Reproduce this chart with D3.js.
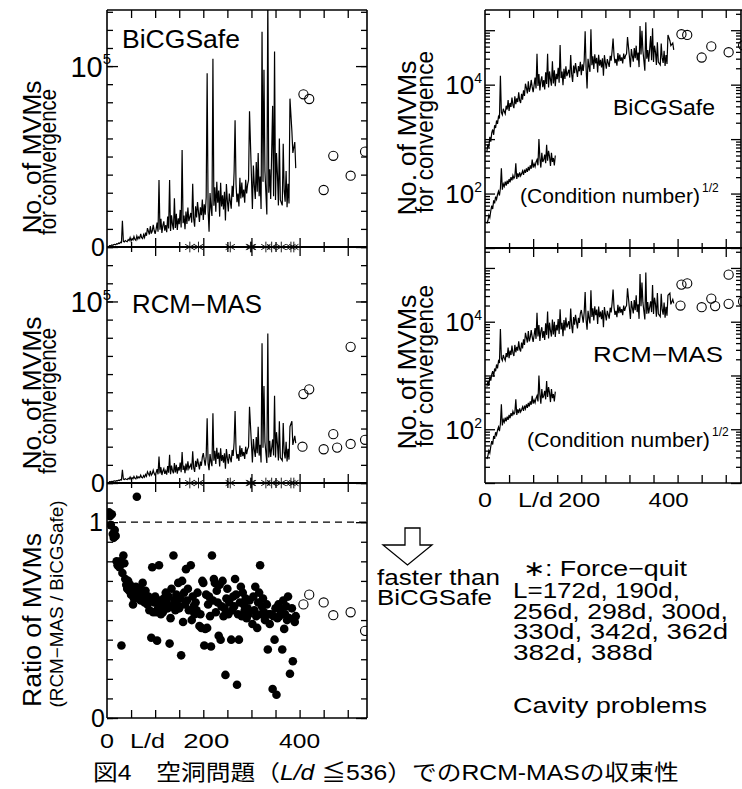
<!DOCTYPE html>
<html>
<head>
<meta charset="utf-8">
<script src="https://cdn.jsdelivr.net/npm/d3@7"></script>
<style>
body { margin: 0; background: #fff; }
svg text { font-family: "Liberation Sans", Arial, "Noto Sans CJK JP", sans-serif; fill: #000; }
</style>
</head>
<body>
<svg id="fig" width="742" height="789"></svg>
<script>
// L/d of every cavity problem that was run
const ldValues = [
    4, 6, 8, 10, 12, 14, 16, 18, 20, 22, 24, 26, 28, 30, 32, 34, 36, 38, 40, 42,
    44, 46, 48, 50, 52, 54, 56, 58, 60, 62, 64, 66, 68, 70, 72, 74, 76, 78, 80, 82,
    84, 86, 88, 90, 92, 94, 96, 98, 100, 102, 104, 106, 108, 110, 112, 114, 116, 118, 120, 122,
    124, 126, 128, 130, 132, 134, 136, 138, 140, 142, 144, 146, 148, 150, 152, 154, 156, 158, 160, 162,
    164, 166, 168, 170, 172, 174, 176, 178, 180, 182, 184, 186, 188, 190, 192, 194, 196, 198, 200, 202,
    204, 206, 208, 210, 212, 214, 216, 218, 220, 222, 224, 226, 228, 230, 232, 234, 236, 238, 240, 242,
    244, 246, 248, 250, 252, 254, 256, 258, 260, 262, 264, 266, 268, 270, 272, 274, 276, 278, 280, 282,
    284, 286, 288, 290, 292, 294, 296, 298, 300, 302, 304, 306, 308, 310, 312, 314, 316, 318, 320, 322,
    324, 326, 328, 330, 332, 334, 336, 338, 340, 342, 344, 346, 348, 350, 352, 354, 356, 358, 360, 362,
    364, 366, 368, 370, 372, 374, 376, 378, 380, 382, 384, 386, 388, 390, 392
];
const forceQuitLd = [172, 190, 256, 298, 300, 330, 342, 362, 382, 388];

// MVMs for convergence (null = force-quit)
const bicgMVMs = [
    600, 800, 700, 1100, 900, 1300, 1500, 1200, 1800, 1600,
    2200, 1900, 2600, 2400, 14500, 3100, 2800, 3600, 3200, 2900,
    4100, 3500, 5200, 3300, 4600, 3900, 5800, 4200, 3700, 6100,
    4400, 5600, 4800, 7200, 5100, 4600, 6800, 5300, 7900, 6200,
    10400, 8700, 6900, 11500, 7400, 8800, 12200, 9100, 7300, 9800,
    13500, 8500, 37000, 9500, 15600, 7800, 11800, 14200, 9000, 12100,
    8200, 16800, 10300, 37000, 8900, 17500, 12400, 9600, 27000, 10500,
    18300, 9400, 15800, 12600, 20500, 10800, 53600, 13200, 17400, 9800,
    19600, 12700, 21800, 14300, null, 18800, 13500, 35000, 15600, 11200,
    22500, 16300, 24800, null, 13800, 21900, 17600, 26300, 14900, 23600,
    17800, 27500, 96000, 19800, 8500, 29800, 21500, 17200, 104000, 22800,
    33000, 19500, 36000, 24500, 31200, 16800, 35500, 22400, 28600, 20800,
    30500, 14600, 34800, 25400, 19600, 29500, null, 21200, 33800, 27600,
    41500, 70000, 34500, 24800, 29600, 22400, 38200, 26800, 35600, 27400,
    31800, 24500, 37200, 29600, 34500, 37000, 75000, null, null, 21000,
    45000, 34000, 26500, 47000, 30500, 52000, 28000, 39000, 21000, 119000,
    36000, 98000, 42000, null, 18000, 140000, 30000, 43000, 26500, null,
    78000, 28000, 108000, 26000, 52000, 40000, 23000, 60000, 26000, null,
    23000, 57000, 31000, 25000, 42000, 22000, 35000, 24000, 82000, null,
    64000, 52000, null, 58000, 43600
];
const rcmMVMs = [
    620, 780, 640, 950, 800, 1050, 1200, 950, 1350, 1200,
    1600, 1350, 1850, 1700, 7300, 2100, 1900, 2400, 2100, 1900,
    2600, 2200, 3300, 2100, 2900, 2400, 3600, 2600, 2300, 3700,
    2700, 3400, 2900, 4300, 3100, 2800, 4100, 3200, 4700, 3700,
    6200, 5100, 4100, 6700, 4300, 5100, 7000, 5200, 4200, 5600,
    7600, 4800, 14600, 5300, 8700, 4400, 6600, 7900, 5000, 6700,
    4600, 9300, 5700, 15500, 4900, 9600, 6800, 5300, 11000, 5800,
    10000, 5200, 8700, 6900, 11200, 5900, 17000, 7200, 9500, 5400,
    10700, 6900, 11900, 7800, null, 10200, 7300, 17500, 8500, 6100,
    12200, 8800, 13400, null, 7500, 11800, 9500, 14200, 16500, 12700,
    9600, 14800, 35600, 10700, 7100, 16000, 11600, 9300, 38400, 12300,
    17800, 10500, 19400, 13200, 16800, 9100, 19100, 12100, 15400, 11200,
    16400, 7900, 18700, 13700, 10600, 15900, null, 11400, 18200, 14900,
    22300, 39700, 18600, 13400, 15900, 12100, 20600, 14400, 19200, 14800,
    17100, 13200, 20000, 15900, 18600, 19900, 42000, null, null, 11300,
    24200, 18300, 14300, 25300, 16400, 31000, 15100, 21000, 11300, 77000,
    19400, 53400, 22600, null, 11000, 82300, 14000, 23200, 14300, null,
    24000, 15100, 48000, 14000, 28000, 21500, 12400, 34000, 14000, null,
    12400, 33000, 16700, 13500, 22700, 11900, 18900, 12900, 31000, null,
    34000, 21000, null, 26000, 22000
];
// RCM-MAS / BiCGSafe
const mvmRatio = [
    1.05, 1.03, 0.985, 1.04, 0.94, 0.92, 0.96, 0.93, 0.80, 0.78,
    0.79, 0.77, 0.80, 0.37, 0.74, 0.83, 0.79, 0.71, 0.68, 0.66,
    0.70, 0.65, 0.68, 0.63, 0.66, 0.58, 0.61, 0.64, 0.67, 1.13,
    0.64, 0.61, 0.66, 0.60, 0.63, 0.69, 0.62, 0.59, 0.65, 0.60,
    0.58, 0.62, 0.55, 0.60, 0.41, 0.77, 0.54, 0.59, 0.62, 0.54,
    0.395, 0.56, 0.78, 0.60, 0.53, 0.57, 0.54, 0.61, 0.58, 0.64,
    0.59, 0.56, 0.62, 0.38, 0.51, 0.66, 0.57, 0.83, 0.60, 0.55,
    0.63, 0.58, 0.69, 0.56, 0.61, 0.32, 0.70, 0.49, 0.64, 0.58,
    0.76, 0.60, 0.66, 0.55, null, 0.78, 0.50, 0.62, 0.57, 0.53,
    0.59, 0.55, 0.64, null, 0.47, 0.53, 0.46, 0.70, 0.69, 0.37,
    0.455, 0.63, 0.46, 0.58, 0.62, 0.52, 0.365, 0.83, 0.60, 0.71,
    0.69, 0.54, 0.65, 0.59, 0.42, 0.68, 0.40, 0.57, 0.70, 0.52,
    0.56, 0.22, 0.61, 0.66, 0.53, 0.59, null, 0.40, 0.55, 0.62,
    0.57, 0.71, 0.63, 0.17, 0.53, 0.40, 0.59, 0.67, 0.52, 0.64,
    0.58, 0.55, 0.61, 0.51, 0.56, 0.53, 0.60, null, null, 0.48,
    0.62, 0.55, 0.67, 0.52, 0.46, 0.59, 0.64, 0.78, 0.53, 0.57,
    0.61, 0.54, 0.50, null, 0.58, 0.35, 0.53, 0.48, 0.53, null,
    0.148, 0.52, 0.40, 0.56, 0.119, 0.51, 0.58, 0.52, 0.55, null,
    0.35, 0.60, 0.455, 0.53, 0.57, 0.50, 0.62, 0.51, 0.226, null,
    0.56, 0.29, null, 0.49, 0.52
];

// (Condition number)^(1/2)
const condLd = [
    4, 6, 8, 10, 12, 14, 16, 18, 20, 22, 24, 26, 28, 30, 32, 34, 36, 38, 40, 42,
    44, 46, 48, 50, 52, 54, 56, 58, 60, 62, 64, 66, 68, 70, 72, 74, 76, 78, 80, 82,
    84, 86, 88, 90, 92, 94, 96, 98, 100, 102, 104, 106, 108, 110, 112, 114, 116, 118, 120, 122,
    124, 126, 128, 130, 132, 134, 136, 138, 140, 142, 144, 146
];
const condSqrt = [
    28, 32, 40, 36, 48, 60, 52, 75, 66, 88, 78, 96, 110, 92, 125, 290, 118, 150, 135, 165,
    140, 172, 150, 185, 160, 200, 175, 215, 190, 205, 360, 185, 235, 200, 245, 210, 230, 260, 220, 275,
    240, 290, 250, 310, 265, 330, 285, 420, 300, 350, 310, 380, 420, 330, 1000, 450, 300, 560, 380, 420,
    520, 360, 790, 400, 610, 480, 320, 560, 380, 450, 330, 500
];

// problems beyond L/d 392 (open circles)
const bicgOpenLd = [408, 420, 450, 470, 506, 536];
const bicgOpen = [84400, 81800, 31500, 50400, 39400, 52700];
const ratioOpen = [0.58, 0.63, 0.59, 0.525, 0.54, 0.445];
const rcmOpenLd = [406, 408, 420, 450, 470, 478, 506, 506, 536];
const rcmOpen = [20000, 49000, 51600, 18600, 26900, 19500, 21500, 75000, 23800];

const forceQuitNote = ['L=172d, 190d,', '256d, 298d, 300d,', '330d, 342d, 362d', '382d, 388d'];
const forceQuitNoteLen = [167, 215, 215, 140];

const svg = d3.select('#fig');

const xLeft = d3.scaleLinear().domain([0, 540]).range([107, 367]);
const xRight = d3.scaleLinear().domain([0, 540]).range([485, 745]);
const yBicg = d3.scaleLinear().domain([0, 131000]).range([247, 10]);
const yRcm = d3.scaleLinear().domain([0, 130000]).range([483, 247]);
const yRatio = d3.scaleLinear().domain([0, 1.2]).range([718, 483]);
const yLogBicg = d3.scaleLog().domain([10, 2.35e5]).range([248, 10]);
const yLogRcm = d3.scaleLog().domain([10, 2.35e5]).range([483, 248]);

const majorLd = [100, 200, 300, 400, 500];
const minorLd = [50, 150, 250, 350, 450];

function series(ys) {
    return ldValues.map((ld, i) => [ld, ys[i]]).filter(d => d[1] != null);
}

function clipFor(id, x, y) {
    const [y0, y1] = d3.extent(y.range());
    svg.append('clipPath').attr('id', id)
        .append('rect')
        .attr('x', x.range()[0]).attr('y', y0)
        .attr('width', x.range()[1] - x.range()[0]).attr('height', y1 - y0);
    return `url(#${id})`;
}

function ticksOnly(axis, tx, ty) {
    const g = svg.append('g')
        .attr('transform', `translate(${tx},${ty})`)
        .call(axis.tickFormat(''));
    g.select('.domain').remove();
    g.selectAll('line').attr('stroke', '#000').attr('stroke-width', 1.3);
    return g;
}

function yTicks(x, y, minor, major) {
    const [x0, x1] = x.range();
    ticksOnly(d3.axisLeft(y).tickValues(minor).tickSize(-6), x0, 0);
    ticksOnly(d3.axisRight(y).tickValues(minor).tickSize(-6), Math.min(x1, 741), 0);
    ticksOnly(d3.axisLeft(y).tickValues(major).tickSize(-11), x0, 0);
    ticksOnly(d3.axisRight(y).tickValues(major).tickSize(-11), Math.min(x1, 741), 0);
}

function spines(x, y) {
    const [x0, x1] = x.range();
    const [y0, y1] = d3.extent(y.range());
    [x0, Math.min(x1, 741)].forEach(xx => {
        svg.append('line')
            .attr('x1', xx).attr('x2', xx).attr('y1', y0).attr('y2', y1)
            .attr('stroke', '#000').attr('stroke-width', 1.6);
    });
}

function hLine(x, yy, w) {
    svg.append('line')
        .attr('x1', x.range()[0]).attr('x2', Math.min(x.range()[1], 742))
        .attr('y1', yy).attr('y2', yy)
        .attr('stroke', '#000').attr('stroke-width', w);
}

// x ticks crossing a line (both directions)
function crossTicks(x, yy) {
    ticksOnly(d3.axisTop(x).tickValues(majorLd).tickSize(9), 0, yy);
    ticksOnly(d3.axisBottom(x).tickValues(majorLd).tickSize(9), 0, yy);
    ticksOnly(d3.axisTop(x).tickValues(minorLd).tickSize(5), 0, yy);
    ticksOnly(d3.axisBottom(x).tickValues(minorLd).tickSize(5), 0, yy);
}

function drawLine(x, y, data, clip) {
    svg.append('path')
        .datum(data)
        .attr('clip-path', clip)
        .attr('d', d3.line().x(d => x(d[0])).y(d => y(d[1])))
        .attr('fill', 'none')
        .attr('stroke', '#000')
        .attr('stroke-width', 1.2);
}

function openCircles(x, y, lds, vals, clip) {
    svg.append('g').attr('clip-path', clip)
        .selectAll('circle')
        .data(lds.map((ld, i) => [ld, vals[i]]))
        .join('circle')
        .attr('cx', d => x(d[0]))
        .attr('cy', d => y(d[1]))
        .attr('r', 4.6)
        .attr('fill', 'none')
        .attr('stroke', '#000')
        .attr('stroke-width', 1.1);
}

function asterisks(yy) {
    svg.append('g')
        .selectAll('path')
        .data(forceQuitLd)
        .join('path')
        .attr('transform', d => `translate(${xLeft(d)},${yy})`)
        .attr('d', d3.symbol(d3.symbolAsterisk, 80))
        .attr('fill', 'none')
        .attr('stroke', '#000')
        .attr('stroke-width', 0.9);
}

function text(x, y, str, size, opts = {}) {
    const t = svg.append('text')
        .attr('x', x).attr('y', y)
        .attr('font-size', size)
        .attr('text-anchor', opts.anchor || 'start')
        .text(str);
    if (opts.len) t.attr('textLength', opts.len).attr('lengthAdjust', 'spacingAndGlyphs');
    return t;
}

function power(xEnd, yMid, base, exp, size, supSize) {
    const t = svg.append('text')
        .attr('x', xEnd).attr('y', yMid + size * 0.36)
        .attr('text-anchor', 'end')
        .attr('font-size', size);
    t.append('tspan').text(base);
    t.append('tspan').attr('font-size', supSize).attr('dy', -size * 0.42).text(exp);
}

function yTitle(bx, cy, str, size, len) {
    svg.append('text')
        .attr('transform', `translate(${bx},${cy}) rotate(-90)`)
        .attr('text-anchor', 'middle')
        .attr('font-size', size)
        .attr('textLength', len)
        .attr('lengthAdjust', 'spacingAndGlyphs')
        .text(str);
}

// ---------- left column ----------
const clipBicg = clipFor('clipBicg', xLeft, yBicg);
const clipRcm = clipFor('clipRcm', xLeft, yRcm);
const clipRatio = clipFor('clipRatio', xLeft, yRatio);

drawLine(xLeft, yBicg, series(bicgMVMs), clipBicg);
openCircles(xLeft, yBicg, bicgOpenLd, bicgOpen, clipBicg);
drawLine(xLeft, yRcm, series(rcmMVMs), clipRcm);
openCircles(xLeft, yRcm, rcmOpenLd, rcmOpen, clipRcm);

svg.append('line')
    .attr('x1', xLeft(0)).attr('x2', xLeft.range()[1])
    .attr('y1', yRatio(1)).attr('y2', yRatio(1))
    .attr('stroke', '#000').attr('stroke-width', 1.2)
    .attr('stroke-dasharray', '7,5');

svg.append('g').attr('clip-path', clipRatio)
    .selectAll('circle')
    .data(series(mvmRatio))
    .join('circle')
    .attr('cx', d => xLeft(d[0]))
    .attr('cy', d => yRatio(d[1]))
    .attr('r', 4.3)
    .attr('fill', '#000');
openCircles(xLeft, yRatio, bicgOpenLd, ratioOpen, clipRatio);

const linTicks = d3.range(0, 131000, 10000);
yTicks(xLeft, yBicg, linTicks, [0, 100000]);
yTicks(xLeft, yRcm, linTicks, [0, 100000]);
yTicks(xLeft, yRatio, d3.range(0, 1.21, 0.1), [0, 1]);
spines(xLeft, yBicg);
spines(xLeft, yRcm);
spines(xLeft, yRatio);
hLine(xLeft, 10, 1.6);
hLine(xLeft, yBicg(0), 2.2);
hLine(xLeft, yRcm(0), 2.2);
hLine(xLeft, 718, 1.6);
ticksOnly(d3.axisTop(xLeft).tickValues(majorLd.concat(minorLd)).tickSize(-8), 0, 10);
crossTicks(xLeft, yBicg(0));
crossTicks(xLeft, yRcm(0));
ticksOnly(d3.axisBottom(xLeft).tickValues(majorLd.concat(minorLd)).tickSize(-8), 0, 718);
asterisks(yBicg(0));
asterisks(yRcm(0));

// ---------- right column ----------
const clipLogBicg = clipFor('clipLogBicg', xRight, yLogBicg);
const clipLogRcm = clipFor('clipLogRcm', xRight, yLogRcm);
const condData = condLd.map((ld, i) => [ld, condSqrt[i]]);

drawLine(xRight, yLogBicg, series(bicgMVMs), clipLogBicg);
drawLine(xRight, yLogBicg, condData, clipLogBicg);
openCircles(xRight, yLogBicg, bicgOpenLd, bicgOpen, clipLogBicg);
drawLine(xRight, yLogRcm, series(rcmMVMs), clipLogRcm);
drawLine(xRight, yLogRcm, condData, clipLogRcm);
openCircles(xRight, yLogRcm, rcmOpenLd, rcmOpen, clipLogRcm);

const decades = [10, 100, 1000, 10000, 100000];
const logMinor = [];
decades.forEach(d => d3.range(2, 10).forEach(m => { if (d * m < 2.35e5) logMinor.push(d * m); }));
[yLogBicg, yLogRcm].forEach(y => {
    const [x0, x1] = xRight.range();
    ticksOnly(d3.axisLeft(y).tickValues(logMinor).tickSize(-5), x0, 0);
    ticksOnly(d3.axisRight(y).tickValues(logMinor).tickSize(-5), 741, 0);
    ticksOnly(d3.axisLeft(y).tickValues(decades).tickSize(-10), x0, 0);
    ticksOnly(d3.axisRight(y).tickValues(decades).tickSize(-10), 741, 0);
    spines(xRight, y);
});
hLine(xRight, 10, 1.6);
hLine(xRight, 248, 2.2);
hLine(xRight, 483, 1.6);
ticksOnly(d3.axisTop(xRight).tickValues(majorLd.concat(minorLd)).tickSize(-8), 0, 10);
crossTicks(xRight, 248);
ticksOnly(d3.axisBottom(xRight).tickValues(majorLd.concat(minorLd)).tickSize(-8), 0, 483);

// ---------- labels ----------
text(122, 48, 'BiCGSafe', 25, {len: 118});
text(132, 313, 'RCM\u2212MAS', 25, {len: 130});
text(613, 115, 'BiCGSafe', 22, {len: 102});
text(593, 362, 'RCM\u2212MAS', 22, {len: 130});

[[520, 203, 180], [527, 447, 183]].forEach(([x, y, len]) => {
    text(x, y, '(Condition number)', 21, {len: len});
    text(x + len + 2, y - 11, '1/2', 12);
});

// y tick labels
text(105, yBicg(0) + 9, '0', 25, {anchor: 'end'});
power(111, yBicg(100000), '10', '5', 29, 15);
text(105, yRcm(0) + 9, '0', 25, {anchor: 'end'});
power(111, yRcm(100000), '10', '5', 29, 15);
text(105, yRatio(0) + 9, '0', 25, {anchor: 'end'});
text(103, yRatio(1) + 9, '1', 25, {anchor: 'end'});
power(482, yLogBicg(1e4), '10', '4', 26, 14);
power(482, yLogBicg(1e2), '10', '2', 26, 14);
power(482, yLogRcm(1e4), '10', '4', 26, 14);
power(482, yLogRcm(1e2), '10', '2', 26, 14);

// x tick labels
text(xLeft(0), 748, '0', 21, {anchor: 'middle', len: 14});
text(130, 748, 'L/d', 21, {len: 35});
text(xLeft(200) + 3, 748, '200', 21, {anchor: 'middle', len: 46});
text(xLeft(400), 748, '400', 21, {anchor: 'middle', len: 41});
text(xRight(0), 507, '0', 21, {anchor: 'middle', len: 14});
text(518, 507, 'L/d', 21, {len: 35});
text(xRight(200) - 2, 507, '200', 21, {anchor: 'middle', len: 42});
text(xRight(400) - 9, 507, '400', 21, {anchor: 'middle', len: 40});

// y titles
yTitle(41, 157, 'No. of MVMs', 26, 153);
yTitle(56, 162, 'for convergence', 23, 146);
yTitle(41, 393, 'No. of MVMs', 26, 153);
yTitle(56, 401, 'for convergence', 23, 146);
yTitle(41, 620, 'Ratio of MVMs', 26, 174);
yTitle(63, 604, '(RCM\u2212MAS / BiCGSafe)', 18, 207);
yTitle(416, 138, 'No. of MVMs', 26, 155);
yTitle(433, 132, 'for convergence', 23, 162);
yTitle(416, 372, 'No. of MVMs', 26, 155);
yTitle(433, 366, 'for convergence', 23, 162);

// arrow
svg.append('path')
    .attr('d', 'M405,528 H420 V545 H432 L407.5,565 L383,545 H405 Z')
    .attr('fill', '#fff').attr('stroke', '#000').attr('stroke-width', 1.3);

text(377, 585, 'faster than', 22, {len: 123});
text(377, 605, 'BiCGSafe', 22, {len: 115});

text(523, 576, '\u2217: Force\u2212quit', 22, {len: 164});
forceQuitNote.forEach((s, i) => text(513, 598 + i * 20.5, s, 22, {len: forceQuitNoteLen[i]}));
text(513, 713, 'Cavity problems', 22, {len: 194});

// caption
const cap = svg.append('text')
    .attr('transform', 'translate(93,780) scale(1.125,1)')
    .attr('font-size', 22);
cap.append('tspan').text('図4　空洞問題（');
cap.append('tspan').attr('font-style', 'italic').text('L/d');
cap.append('tspan').text(' ≦536）でのRCM-MASの収束性');
</script>
</body>
</html>
